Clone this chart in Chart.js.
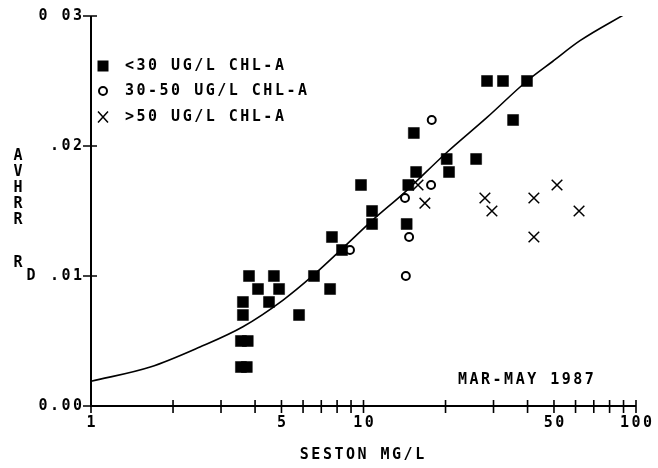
<!DOCTYPE html>
<html lang="en">
<head>
  <meta charset="UTF-8">
  <title>AVHRR RD vs Seston</title>
  <style>
    * {box-sizing:border-box;margin:0;padding:0;}
    body {background:#fff;}
    #wrap {width:658px;height:468px;}
  </style>
</head>
<body>
  <div id="wrap"><canvas id="chart" width="658" height="468"></canvas></div>
  <script src="https://cdn.jsdelivr.net/npm/chart.js@4.4.1/dist/chart.umd.min.js"></script>
  <script>
    // <30 ug/L chl-a (filled squares)
    const lowX = [3.55,3.73,3.55,3.76,3.61,3.61,3.80,4.10,4.50,4.69,4.90,5.80,6.58,7.54,7.66,8.34,9.79,10.75,10.75,14.4,14.6,15.3,15.6,20.2,20.6,25.9,28.4,32.5,35.4,39.8];
    const lowY = [0.003,0.003,0.005,0.005,0.008,0.007,0.010,0.009,0.008,0.010,0.009,0.007,0.010,0.009,0.013,0.012,0.017,0.015,0.014,0.014,0.017,0.021,0.018,0.019,0.018,0.019,0.025,0.025,0.022,0.025];
    // 30-50 ug/L chl-a (open circles)
    const midX = [8.92,14.3,14.7,14.2,17.7,17.8];
    const midY = [0.012,0.010,0.013,0.016,0.017,0.022];
    // >50 ug/L chl-a (crosses)
    const highX = [15.85,16.8,27.9,29.6,42.2,42.2,51.3,61.8];
    const highY = [0.017,0.0156,0.016,0.015,0.016,0.013,0.017,0.015];
    // fitted curve
    const fitX = [1,1.65,2.51,3.61,5.07,6.58,8.4,10.8,14.1,20.2,28.4,39.8,49.4,62.3,92];
    const fitY = [0.0019,0.0030,0.00454,0.0061,0.00815,0.0101,0.01215,0.0143,0.0164,0.0195,0.0222,0.0250,0.0265,0.0281,0.0302];

    const yTicks = [0,0.01,0.02,0.03];
    const yTickLabels = ['0.00','.01','.02','0 03'];
    const xMajor = [1,5,10,50,100];
    const xMajorLabels = ['1','5','10','50','100'];
    const xMinor = [2,3,4,6,7,8,9,20,30,40,60,70,80,90];
    const legendLabels = ['<30 UG/L CHL-A','30-50 UG/L CHL-A','>50 UG/L CHL-A'];

    const pts = (xs,ys)=>xs.map((v,i)=>({x:v,y:ys[i]}));
    const FONT = 'bold 15px "DejaVu Sans Mono", "Liberation Mono", monospace';
    const LS = 2.5;

    function text(ctx,str,x,y,align){
      ctx.textAlign = align || 'left';
      let dx = 0;
      if(align==='center') dx = LS/2;
      if(align==='right') dx = LS;
      ctx.fillText(str,x+dx,y);
    }

    const axesPlugin = {
      id:'plotterAxes',
      afterDraw(chart){
        const {ctx, chartArea:a, scales:{x,y}} = chart;
        ctx.save();
        ctx.strokeStyle = '#000';
        ctx.fillStyle = '#000';
        ctx.lineWidth = 2;
        ctx.beginPath();
        ctx.moveTo(a.left,a.top);
        ctx.lineTo(a.left,a.bottom);
        ctx.lineTo(a.right,a.bottom);
        ctx.stroke();

        ctx.lineWidth = 1.6;
        ctx.beginPath();
        yTicks.forEach(v=>{
          const py = y.getPixelForValue(v);
          ctx.moveTo(a.left-8,py); ctx.lineTo(a.left+6,py);
        });
        xMajor.concat(xMinor).forEach(v=>{
          const px = x.getPixelForValue(v);
          ctx.moveTo(px,a.bottom-6); ctx.lineTo(px,a.bottom+7);
        });
        ctx.stroke();

        ctx.font = FONT;
        ctx.letterSpacing = LS+'px';
        ctx.textBaseline = 'middle';
        yTicks.forEach((v,i)=>text(ctx,yTickLabels[i],a.left-9,y.getPixelForValue(v),'right'));
        xMajor.forEach((v,i)=>text(ctx,xMajorLabels[i],x.getPixelForValue(v),423,'center'));

        text(ctx,'SESTON MG/L',362,455,'center');
        text(ctx,'MAR-MAY 1987',458,380,'left');

        ['A','V','H','R','R'].forEach((c,i)=>text(ctx,c,18,156+i*16,'center'));
        text(ctx,'R',18,263,'center');
        text(ctx,'D',31,276,'center');

        // legend
        const lx = 103, rows = [66,91,117];
        ctx.fillRect(lx-5.5,rows[0]-5.5,11,11);
        ctx.lineWidth = 2;
        ctx.beginPath(); ctx.arc(lx,rows[1],4,0,Math.PI*2); ctx.stroke();
        ctx.lineWidth = 1.5;
        ctx.beginPath();
        ctx.moveTo(lx-5,rows[2]-5.5); ctx.lineTo(lx+5,rows[2]+5.5);
        ctx.moveTo(lx+5,rows[2]-5.5); ctx.lineTo(lx-5,rows[2]+5.5);
        ctx.stroke();
        legendLabels.forEach((s,i)=>text(ctx,s,125,rows[i],'left'));
        ctx.restore();
      }
    };

    new Chart(document.getElementById('chart'),{
      type:'scatter',
      data:{datasets:[
        {label:'fit',data:pts(fitX,fitY),showLine:true,borderColor:'#000',borderWidth:1.6,pointRadius:0,cubicInterpolationMode:'monotone'},
        {label:legendLabels[0],data:pts(lowX,lowY),pointStyle:'rect',pointRadius:7.8,backgroundColor:'#000',borderColor:'#000',borderWidth:0.5},
        {label:legendLabels[1],data:pts(midX,midY),pointStyle:'circle',pointRadius:4,backgroundColor:'#fff',borderColor:'#000',borderWidth:2},
        {label:legendLabels[2],data:pts(highX,highY),pointStyle:'crossRot',pointRadius:7.5,borderColor:'#000',borderWidth:1.5}
      ]},
      options:{
        responsive:false,
        animation:false,
        layout:{padding:{left:91,top:16,right:22,bottom:62}},
        plugins:{legend:{display:false},tooltip:{enabled:false}},
        scales:{
          x:{type:'logarithmic',min:1,max:100,display:false},
          y:{type:'linear',min:0,max:0.03,display:false}
        }
      },
      plugins:[axesPlugin]
    });
  </script>
</body>
</html>
